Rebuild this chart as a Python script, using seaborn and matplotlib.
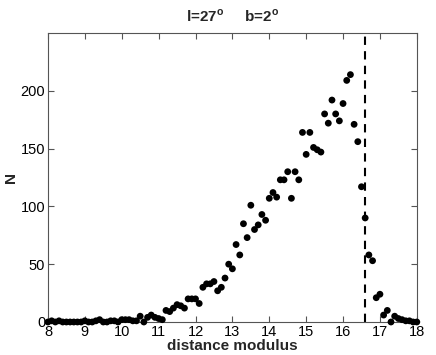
import matplotlib
matplotlib.use("Agg")
import matplotlib.pyplot as plt
import seaborn as sns
import pandas as pd

distance_modulus = [
    8.0, 8.1, 8.2, 8.3, 8.4, 8.5, 8.6, 8.7, 8.8, 8.9,
    9.0, 9.1, 9.2, 9.3, 9.4, 9.5, 9.6, 9.7, 9.8, 9.9,
    10.0, 10.1, 10.2, 10.3, 10.4, 10.5, 10.6, 10.7, 10.8, 10.9,
    11.0, 11.1, 11.2, 11.3, 11.4, 11.5, 11.6, 11.7, 11.8, 11.9,
    12.0, 12.1, 12.2, 12.3, 12.4, 12.5, 12.6, 12.7, 12.8, 12.9,
    13.0, 13.1, 13.2, 13.3, 13.4, 13.5, 13.6, 13.7, 13.8, 13.9,
    14.0, 14.1, 14.2, 14.3, 14.4, 14.5, 14.6, 14.7, 14.8, 14.9,
    15.0, 15.1, 15.2, 15.3, 15.4, 15.5, 15.6, 15.7, 15.8, 15.9,
    16.0, 16.1, 16.2, 16.3, 16.4, 16.5, 16.6, 16.7, 16.8, 16.9,
    17.0, 17.1, 17.2, 17.3, 17.4, 17.5, 17.6, 17.7, 17.8, 17.9,
    18.0,
]
counts = [
    0, 1, 0, 1, 0, 0, 0, 0, 0, 0,
    1, 0, 0, 1, 2, 0, 0, 1, 1, 0,
    2, 2, 2, 1, 1, 5, 0, 4, 6, 4,
    3, 2, 10, 9, 12, 15, 14, 12, 20, 20,
    20, 16, 30, 33, 33, 35, 27, 30, 38, 50,
    46, 67, 58, 85, 73, 101, 80, 84, 93, 88,
    107, 112, 108, 123, 123, 130, 107, 130, 123, 164,
    145, 164, 151, 149, 147, 180, 172, 192, 180, 174,
    189, 209, 214, 171, 156, 117, 90, 58, 53, 21,
    24, 6, 10, 0, 5, 3, 2, 1, 1, 0,
    0,
]
x_ticks = [8, 9, 10, 11, 12, 13, 14, 15, 16, 17, 18]
y_ticks = [0, 50, 100, 150, 200]
cutoff = 16.6
title_text = r"l=27$^{\mathbf{o}}$     b=2$^{\mathbf{o}}$"

df = pd.DataFrame({"dm": distance_modulus, "N": counts})

sns.set_style("ticks")
plt.rcParams["font.family"] = ["Liberation Sans", "DejaVu Sans"]
plt.rcParams["mathtext.fontset"] = "custom"
plt.rcParams["mathtext.bf"] = "Liberation Sans:bold"
plt.rcParams["mathtext.rm"] = "Liberation Sans"

fig = plt.figure(figsize=(4.36, 3.55), dpi=100)
ax = fig.add_axes([0.110, 0.093, 0.846, 0.814])

sns.scatterplot(data=df, x="dm", y="N", ax=ax, color="black", s=24,
                edgecolor="none", linewidth=0, clip_on=False, zorder=3)
ax.axvline(cutoff, color="black", linestyle=(0, (4, 3)), linewidth=1.5, zorder=2)

ax.set_xlim(8, 18)
ax.set_ylim(0, 250)
ax.set_xticks(x_ticks)
ax.set_xticklabels([str(t) for t in x_ticks])
ax.set_yticks(y_ticks)
ax.set_yticklabels([str(t) for t in y_ticks])
ax.tick_params(direction="in", top=True, right=True, length=4, width=0.8,
               color="#555555", labelsize=10.5, pad=2, labelcolor="black")
for sp in ax.spines.values():
    sp.set_visible(True)
    sp.set_color("#555555")
    sp.set_linewidth(0.8)

ax.set_xlabel("distance modulus", fontsize=11, fontweight="bold", labelpad=0)
ax.set_ylabel("N", fontsize=11, fontweight="bold")
ax.yaxis.set_label_coords(-0.082, 0.5)
ax.set_title(title_text, fontsize=11, fontweight="bold", pad=8)

fig.savefig("out.png", dpi=100)
